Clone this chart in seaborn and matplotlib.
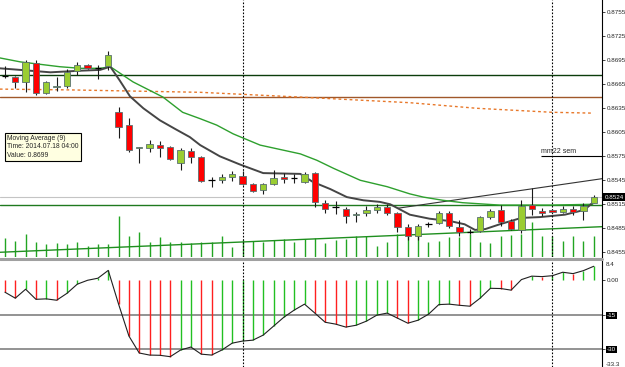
import numpy as np
import seaborn as sns
import matplotlib.pyplot as plt
import matplotlib.transforms as mtransforms
from matplotlib.lines import Line2D

# ---- velas H4 ----
opens = [0.8675, 0.8674, 0.8668, 0.8692, 0.8654, 0.8662, 0.8663, 0.8682, 0.8689, 0.8685,
         0.8688, 0.8630, 0.8614, 0.8585, 0.8585, 0.8589, 0.8587, 0.8567, 0.8582, 0.8574,
         0.8545, 0.8545, 0.8549, 0.8550, 0.8540, 0.8533, 0.8540, 0.8549, 0.8548, 0.8543,
         0.8554, 0.8517, 0.8512, 0.8509, 0.8502, 0.8504, 0.8508, 0.8512, 0.8504, 0.8487,
         0.8475, 0.8490, 0.8492, 0.8504, 0.8487, 0.8480, 0.8482, 0.8499, 0.8508, 0.8494,
         0.8483, 0.8514, 0.8507, 0.8508, 0.8505, 0.8509, 0.8507, 0.8516]
highs = [0.8688, 0.8675, 0.8695, 0.8695, 0.8669, 0.8674, 0.8684, 0.8693, 0.8690, 0.8689,
         0.8707, 0.8637, 0.8623, 0.8587, 0.8595, 0.8594, 0.8588, 0.8585, 0.8585, 0.8575,
         0.8549, 0.8553, 0.8557, 0.8557, 0.8541, 0.8541, 0.8558, 0.8554, 0.8553, 0.8555,
         0.8555, 0.8520, 0.8519, 0.8512, 0.8505, 0.8513, 0.8515, 0.8515, 0.8505, 0.8490,
         0.8490, 0.8493, 0.8507, 0.8507, 0.8495, 0.8484, 0.8500, 0.8509, 0.8514, 0.8497,
         0.8520, 0.8535, 0.8510, 0.8509, 0.8513, 0.8513, 0.8516, 0.8526]
lows = [0.8673, 0.8660, 0.8655, 0.8652, 0.8653, 0.8657, 0.8660, 0.8677, 0.8684, 0.8672,
        0.8683, 0.8598, 0.8580, 0.8567, 0.8580, 0.8574, 0.8570, 0.8558, 0.8567, 0.8543,
        0.8537, 0.8542, 0.8544, 0.8539, 0.8530, 0.8528, 0.8539, 0.8542, 0.8542, 0.8542,
        0.8512, 0.8504, 0.8503, 0.8492, 0.8493, 0.8500, 0.8504, 0.8502, 0.8480, 0.8470,
        0.8470, 0.8487, 0.8490, 0.8485, 0.8475, 0.8478, 0.8480, 0.8497, 0.8488, 0.8483,
        0.8479, 0.8502, 0.8500, 0.8504, 0.8504, 0.8502, 0.8495, 0.8516]
closes = [0.8675, 0.8668, 0.8693, 0.8654, 0.8668, 0.8663, 0.8680, 0.8689, 0.8685, 0.8685,
          0.8702, 0.8612, 0.8583, 0.8586, 0.8590, 0.8585, 0.8572, 0.8583, 0.8574, 0.8544,
          0.8545, 0.8549, 0.8553, 0.8540, 0.8532, 0.8540, 0.8548, 0.8547, 0.8548, 0.8553,
          0.8518, 0.8509, 0.8512, 0.8500, 0.8503, 0.8508, 0.8512, 0.8504, 0.8487, 0.8475,
          0.8488, 0.8490, 0.8504, 0.8488, 0.8480, 0.8480, 0.8499, 0.8507, 0.8493, 0.8484,
          0.8513, 0.8509, 0.8504, 0.8505, 0.8509, 0.8505, 0.8513, 0.8524]
volumes = [1900, 1600, 2300, 1500, 1300, 1400, 1300, 1500, 1100, 1300, 1300,
           4100, 2100, 2500, 1500, 2000, 1500, 1500, 1400, 1500, 1500,
           2100, 1000, 1700, 1600, 1500, 1700, 1800, 1500, 1800, 1900,
           1400, 1700, 1800, 2100, 2100, 1100, 1500, 2300, 2600, 2100,
           1500, 1600, 2000, 2000, 2300, 1500, 1400, 2100, 2200, 2300,
           3500, 2100, 2100, 1600, 2100, 1600, 2100]
# indicador de la ventana inferior
osc = [-5.2, -7.8, -3.9, -8.3, -8.1, -8.7, -5.7, -1.7, 0.0, 0.9, 4.3,
       -10.4, -24.3, -31.7, -32.6, -32.7, -33.3, -30.4, -29.1, -32.2, -32.6,
       -30.4, -27.4, -26.5, -26.1, -23.9, -20.0, -16.1, -13.0, -10.4, -14.3,
       -18.3, -19.1, -20.4, -19.6, -17.8, -15.2, -14.3, -16.5, -18.7, -17.4,
       -14.8, -10.6, -10.4, -10.9, -11.3, -7.8, -3.5, -3.6, -4.3, 0.3,
       1.8, 1.6, 2.0, 3.5, 2.9, 4.2, 6.1]

# medias moviles (posicion en velas, precio)
ma9_x = [-0.5, 1.5, 4.4, 7.3, 9.2, 10.2, 11.1, 12.1, 13.4, 15.0, 16.5, 17.9, 18.9, 20.8, 22.7,
         25.0, 28.6, 29.8, 31.5, 33.1, 34.7, 36.3, 37.3, 39.2, 41.1, 43.1, 44.5, 45.5, 46.5,
         47.9, 50.0, 51.8, 54.2, 56.1, 56.9]
ma9_y = [0.8685, 0.8683, 0.8680, 0.8682, 0.8683, 0.8687, 0.8670, 0.8650, 0.8635, 0.8620, 0.8609,
         0.8599, 0.8589, 0.8575, 0.8565, 0.8554, 0.8553, 0.8543, 0.8534, 0.8524, 0.8520, 0.8518,
         0.8515, 0.8502, 0.8497, 0.8494, 0.8490, 0.8483, 0.8484, 0.8490, 0.8498, 0.8499, 0.8502,
         0.8508, 0.8517]
ma_slow_x = [-0.5, 1.5, 3.4, 5.3, 7.3, 9.2, 10.2, 12.4, 15.3, 17.2, 18.9, 20.5, 22.1, 24.7,
             28.6, 30.2, 31.8, 34.4, 37.0, 39.2, 40.5, 42.4, 44.3, 47.9, 52.8, 56.9]
ma_slow_y = [0.8698, 0.8693, 0.8690, 0.8687, 0.8685, 0.8685, 0.8687, 0.8668, 0.8649, 0.8630,
             0.8622, 0.8614, 0.8603, 0.8589, 0.8578, 0.8570, 0.8560, 0.8545, 0.8537, 0.8528,
             0.8524, 0.8520, 0.8517, 0.8514, 0.8514, 0.8515]
ma_long_x = [-0.5, 6.3, 18.9, 28.6, 39.2, 45.7, 53.0, 56.8]
ma_long_y = [0.8659, 0.8658, 0.8655, 0.8649, 0.8642, 0.8635, 0.8630, 0.8629]

price_ticks = [0.8755, 0.8725, 0.8695, 0.8665, 0.8635, 0.8605, 0.8575, 0.8545, 0.8515, 0.8485, 0.8455]
osc_ticks = [0.0, -15, -30]
osc_labels = ["0.00", "-15", "-30"]

level_green_top = 0.8677
level_brown = 0.8649
level_green_low = 0.8514
last_price = 0.8524
mm22_level = 0.8575
trend_x = [38, 57.8]
trend_y = [0.8510, 0.8547]
vtrend_x = [-0.48, 57.8]
vtrend_y = [0.8455, 0.8487]
separators = [23, 53]

sns.set_style("white")
plt.rcParams['font.family'] = ['Liberation Sans', 'DejaVu Sans']

W, H = 625, 367
fig = plt.figure(figsize=(6.25, 3.67), dpi=100)
vax = fig.add_axes([0, 110 / H, 602 / W, 257 / H])
ax = fig.add_axes([0, 110 / H, 602 / W, 257 / H], sharex=vax)
ax2 = fig.add_axes([0, 0, 602 / W, 106 / H], sharex=vax)
ax.patch.set_visible(False)

idx = np.arange(len(opens))
o = np.array(opens)
c = np.array(closes)

# volumen
vax.vlines(idx, 0, volumes, color='#22a522', lw=1)
vax.set_ylim(0, 25700)
for s in vax.spines.values():
    s.set_visible(False)
vax.set_xticks([])
vax.set_yticks([])

# niveles horizontales
ax.axhline(level_green_top, color='#0b3d0b', lw=1)
ax.axhline(level_brown, color='#a0582a', lw=1)
ax.axhline(level_green_low, color='#1f7a1f', lw=1)
ax.axhline(last_price, color='#c4c4c4', lw=0.8)
ax.hlines(mm22_level, 51.9, 57.8, color='black', lw=0.8)
ax.text(51.9, mm22_level + 0.0002, "mm22 sem", fontsize=5, va='bottom', ha='left')
sns.lineplot(x=trend_x, y=trend_y, ax=ax, color='#333333', lw=0.8)
sns.lineplot(x=vtrend_x, y=vtrend_y, ax=ax, color='#1f8f1f', lw=1)

# medias
sns.lineplot(x=ma_long_x, y=ma_long_y, ax=ax, color='#e8782a', lw=1, linestyle=(0, (2, 2)))
sns.lineplot(x=ma_slow_x, y=ma_slow_y, ax=ax, color='#2ea02e', lw=1)
sns.lineplot(x=ma9_x, y=ma9_y, ax=ax, color='#454545', lw=1.4)

# velas
up = c > o
dn = c < o
fl = c == o
ax.vlines(idx, lows, highs, color='#1a1a1a', lw=0.8, zorder=3)
ax.bar(idx[up], (c - o)[up], bottom=o[up], width=0.62, color='#9acd32',
       edgecolor='#5a7070', lw=0.6, zorder=4)
ax.bar(idx[dn], (o - c)[dn], bottom=c[dn], width=0.62, color='#ff0000',
       edgecolor='#5a7070', lw=0.6, zorder=4)
ax.hlines(o[fl], idx[fl] - 0.31, idx[fl] + 0.31, color='black', lw=0.9, zorder=4)

ax.set_xlim(-0.48, 57.8)
ax.set_ylim(0.84491, 0.87704)
ax.yaxis.tick_right()
ax.set_yticks(price_ticks)
ax.set_yticklabels([f"{v:.4f}" for v in price_ticks])
ax.tick_params(axis='y', direction='out', length=2.5, width=0.6, pad=1, labelsize=4.5, left=False)
ax.set_xticks([])
for k in ['top', 'left', 'bottom']:
    ax.spines[k].set_visible(False)
ax.spines['right'].set_color('black')
ax.spines['right'].set_linewidth(0.8)

tr = mtransforms.blended_transform_factory(ax.transAxes, ax.transData)
ax.text(1.004, last_price, f"{last_price:.4f}", transform=tr, color='white', fontsize=4.5,
        va='center', ha='left', bbox=dict(fc='black', ec='none', pad=0.8))

ax.text(0.0116, 0.476, "Moving Average (9)\nTime: 2014.07.18 04:00\nValue: 0.8699",
        transform=ax.transAxes, fontsize=4.9, va='top', ha='left', linespacing=1.3,
        bbox=dict(boxstyle='square,pad=0.3', fc='#ffffe1', ec='black', lw=0.8), zorder=6)

# ventana inferior
osc_arr = np.array(osc)
cols = ['#ff2020'] + ['#22c022' if osc_arr[i] >= osc_arr[i - 1] else '#ff2020'
                      for i in range(1, len(osc_arr))]
ax2.axhline(-15, color='#808080', lw=1.2)
ax2.axhline(-30, color='#808080', lw=1.2)
ax2.vlines(idx, 0, osc_arr, colors=cols, lw=1)
sns.lineplot(x=idx, y=osc_arr, ax=ax2, color='#202020', lw=0.8)
ax2.set_ylim(-37.8, 8.4)
ax2.yaxis.tick_right()
ax2.set_yticks(osc_ticks)
ax2.set_yticklabels(osc_labels)
ax2.tick_params(axis='y', direction='out', length=2.5, width=0.6, pad=1, labelsize=4.5, left=False)
ax2.set_xticks([])
for k in ['top', 'left', 'bottom']:
    ax2.spines[k].set_visible(False)
ax2.spines['right'].set_color('black')
ax2.spines['right'].set_linewidth(0.8)
for lab in ax2.get_yticklabels():
    if lab.get_text() in ("-15", "-30"):
        lab.set_color('white')
        lab.set_bbox(dict(fc='black', ec='none', pad=0.6))
ax2.text(1.006, 0.99, "8.4", transform=ax2.transAxes, fontsize=4.5, va='top', ha='left')
ax2.text(1.006, 0.0, "-33.3", transform=ax2.transAxes, fontsize=4.5, va='bottom', ha='left')

for s in separators:
    for a in (ax, ax2):
        a.axvline(s, color='black', lw=0.8, linestyle=(0, (1.5, 1.5)))

# separador entre ventanas
ysep = (H - 258.5) / H
fig.add_artist(Line2D([0, 602 / W], [ysep, ysep], transform=fig.transFigure,
                      color='#a0a0a0', lw=2.2))

fig.savefig("out.png", dpi=100)
